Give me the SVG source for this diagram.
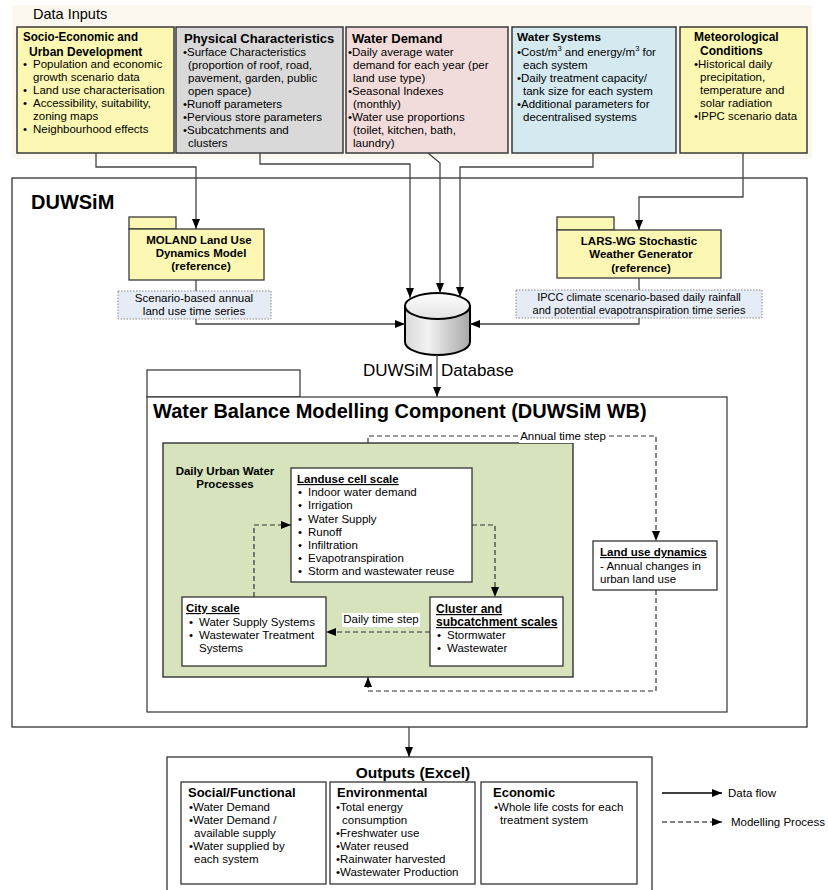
<svg xmlns="http://www.w3.org/2000/svg" width="828" height="890" viewBox="0 0 828 890">
<defs>
<marker id="arr" markerUnits="userSpaceOnUse" markerWidth="10" markerHeight="8" refX="10" refY="4" orient="auto">
<path d="M0,0 L10,4 L0,8 z" fill="#000"/>
</marker>
<linearGradient id="cylBody" x1="0" y1="0" x2="1" y2="0">
<stop offset="0" stop-color="#d8d8d8"/><stop offset="0.35" stop-color="#f2f2f2"/><stop offset="1" stop-color="#a8a8a8"/>
</linearGradient>
<linearGradient id="cylTop" x1="0" y1="0" x2="0" y2="1">
<stop offset="0" stop-color="#ffffff"/><stop offset="1" stop-color="#e2e2e2"/>
</linearGradient>
</defs>
<style>
text{font-family:"Liberation Sans",Arial,sans-serif;fill:#000}
.b{font-weight:bold}
.t{font-size:11.5px}
.s{font-size:11px}
.u{text-decoration:underline}
.ib{stroke:#3a3a3a;stroke-width:1.5}
.box{fill:#fff;stroke:#333;stroke-width:1.3}
.yel{fill:#fcf8b4;stroke:#3a3a3a;stroke-width:1.3}
.lbl{fill:#e6ecf5;stroke:#888;stroke-width:1;stroke-dasharray:1.5,1.5}
.flow{fill:none;stroke:#444;stroke-width:1.3}
.dash{fill:none;stroke:#333;stroke-width:1.2;stroke-dasharray:5,3}
.c{text-anchor:middle}
</style>
<rect x="12" y="5" width="800" height="154" fill="#fcf7ef"/>
<text x="33" y="19" style="font-size:14.5px">Data Inputs</text>

<g id="socio">
<rect x="17" y="27" width="157" height="126" fill="#fcf8b4" class="ib"/>
<text class="b" x="23" y="41" style="font-size:12px" textLength="115" lengthAdjust="spacingAndGlyphs">Socio-Economic and</text>
<text class="b" x="29" y="56" style="font-size:12px">Urban Development</text>
<text class="t" x="23" y="68">•</text><text class="t" x="33" y="68">Population and economic</text>
<text class="t" x="33" y="81">growth scenario data</text>
<text class="t" x="23" y="94">•</text><text class="t" x="33" y="94">Land use characterisation</text>
<text class="t" x="23" y="107">•</text><text class="t" x="33" y="107">Accessibility, suitability,</text>
<text class="t" x="33" y="120">zoning maps</text>
<text class="t" x="23" y="133">•</text><text class="t" x="33" y="133">Neighbourhood effects</text>
</g>

<g id="physical">
<rect x="176" y="27" width="167" height="126" fill="#d9d9d9" class="ib"/>
<text class="b" x="184" y="43" style="font-size:13px">Physical Characteristics</text>
<text class="t" x="183" y="56">•Surface Characteristics</text>
<text class="t" x="188" y="69">(proportion of roof, road,</text>
<text class="t" x="188" y="82">pavement, garden, public</text>
<text class="t" x="188" y="95">open space)</text>
<text class="t" x="183" y="108">•Runoff parameters</text>
<text class="t" x="183" y="121">•Pervious store parameters</text>
<text class="t" x="183" y="134">•Subcatchments and</text>
<text class="t" x="188" y="147">clusters</text>
</g>

<g id="demand">
<rect x="346" y="27" width="162" height="126" fill="#f2dcdb" class="ib"/>
<text class="b" x="352" y="43" style="font-size:13px">Water Demand</text>
<text class="t" x="348" y="56">•Daily average water</text>
<text class="t" x="353" y="69">demand for each year (per</text>
<text class="t" x="353" y="82">land use type)</text>
<text class="t" x="348" y="95">•Seasonal Indexes</text>
<text class="t" x="353" y="108">(monthly)</text>
<text class="t" x="348" y="121">•Water use proportions</text>
<text class="t" x="353" y="134">(toilet, kitchen, bath,</text>
<text class="t" x="353" y="147">laundry)</text>
</g>

<g id="systems">
<rect x="512" y="27" width="164" height="126" fill="#d4eaf0" class="ib"/>
<text class="b" x="517" y="41" style="font-size:11.8px">Water Systems</text>
<text class="t" x="517" y="56">•Cost/m<tspan dy="-5" style="font-size:7.5px">3</tspan><tspan dy="5"> and energy/m</tspan><tspan dy="-5" style="font-size:7.5px">3</tspan><tspan dy="5"> for</tspan></text>
<text class="t" x="523" y="69">each system</text>
<text class="t" x="517" y="82">•Daily treatment capacity/</text>
<text class="t" x="523" y="95">tank size for each system</text>
<text class="t" x="517" y="108">•Additional parameters for</text>
<text class="t" x="523" y="121">decentralised systems</text>
</g>

<g id="meteo">
<rect x="680" y="27" width="127" height="126" fill="#fcf8b4" class="ib"/>
<text class="b" x="694" y="41" style="font-size:12px">Meteorological</text>
<text class="b" x="700" y="55" style="font-size:12px">Conditions</text>
<text class="t" x="694" y="68">•Historical daily</text>
<text class="t" x="700" y="81">precipitation,</text>
<text class="t" x="700" y="94">temperature and</text>
<text class="t" x="700" y="107">solar radiation</text>
<text class="t" x="694" y="120">•IPPC scenario data</text>
</g>

<g id="duwsim">
<rect x="12" y="178" width="795" height="549" fill="#fff" stroke="#222" stroke-width="1.2"/>
<text class="b" x="31" y="209" style="font-size:20px">DUWSiM</text>
</g>

<g id="moland">
<rect x="129" y="217" width="47" height="12" class="yel"/>
<rect x="129" y="229" width="135" height="51" class="yel"/>
<text class="b t c" x="199" y="244">MOLAND Land Use</text>
<text class="b t c" x="201" y="257">Dynamics Model</text>
<text class="b t c" x="201" y="270">(reference)</text>
</g>

<g id="landuse-series">
<rect x="118" y="291" width="153" height="28" class="lbl"/>
<text class="t c" x="194" y="302">Scenario-based annual</text>
<text class="t c" x="194" y="315">land use time series</text>
</g>

<g id="larswg">
<rect x="557" y="217" width="57" height="13" class="yel"/>
<rect x="557" y="230" width="164" height="48" class="yel"/>
<text class="b t c" x="639" y="245">LARS-WG Stochastic</text>
<text class="b t c" x="641" y="258">Weather Generator</text>
<text class="b t c" x="641" y="272">(reference)</text>
</g>

<g id="climate-series">
<rect x="516" y="290" width="246" height="28" class="lbl"/>
<text class="s c" x="639" y="301">IPCC climate scenario-based daily rainfall</text>
<text class="s c" x="639" y="314">and potential evapotranspiration time series</text>
</g>

<g id="database">
<path d="M405,306 L405,342 A32.5,13 0 0 0 470,342 L470,306 Z" fill="url(#cylBody)" stroke="#000" stroke-width="2"/>
<ellipse cx="437.5" cy="306" rx="32.5" ry="13" fill="url(#cylTop)" stroke="#000" stroke-width="2"/>
<text x="363" y="376" style="font-size:17px">DUWSiM</text>
<text x="441" y="376" style="font-size:17px">Database</text>
</g>

<g id="wb">
<rect x="147" y="370" width="153" height="27" fill="#fff" stroke="#333" stroke-width="1.2"/>
<rect x="147" y="397" width="580" height="315" fill="#fff" stroke="#333" stroke-width="1.2"/>
<text class="b" x="153" y="418" style="font-size:20px">Water Balance Modelling Component (DUWSiM WB)</text>
</g>

<g id="daily-processes">
<rect x="163" y="443" width="410" height="234" fill="#d7e3bc" stroke="#333" stroke-width="1.4"/>
<text class="b t c" x="225" y="475">Daily Urban Water</text>
<text class="b t c" x="225" y="488">Processes</text>
</g>

<g id="landuse-cell">
<rect x="291" y="468" width="181" height="114" class="box"/>
<text class="b t u" x="297" y="483">Landuse cell scale</text>
<g class="t">
<text x="298" y="496">•</text><text x="308" y="496">Indoor water demand</text>
<text x="298" y="509">•</text><text x="308" y="509">Irrigation</text>
<text x="298" y="523">•</text><text x="308" y="523">Water Supply</text>
<text x="298" y="536">•</text><text x="308" y="536">Runoff</text>
<text x="298" y="549">•</text><text x="308" y="549">Infiltration</text>
<text x="298" y="562">•</text><text x="308" y="562">Evapotranspiration</text>
<text x="298" y="575">•</text><text x="308" y="575">Storm and wastewater reuse</text>
</g>
</g>

<g id="city">
<rect x="182" y="597" width="144" height="69" class="box"/>
<text class="b t u" x="186" y="612">City scale</text>
<text class="t" x="189" y="626">•</text><text class="t" x="199" y="626">Water Supply Systems</text>
<text class="t" x="189" y="639">•</text><text class="t" x="199" y="639">Wastewater Treatment</text>
<text class="t" x="199" y="652">Systems</text>
</g>

<g id="cluster">
<rect x="430" y="597" width="133" height="69" class="box"/>
<text class="b u" x="436" y="613" style="font-size:12px">Cluster and</text>
<text class="b u" x="436" y="626" style="font-size:12px">subcatchment scales</text>
<text class="t" x="437" y="639">•</text><text class="t" x="447" y="639">Stormwater</text>
<text class="t" x="437" y="652">•</text><text class="t" x="447" y="652">Wastewater</text>
</g>

<g id="landuse-dynamics">
<rect x="593" y="541" width="124" height="49" class="box"/>
<text class="b t u" x="600" y="556">Land use dynamics</text>
<text class="t" x="600" y="570">- Annual changes in</text>
<text class="t" x="600" y="583">urban land use</text>
</g>

<g id="outputs">
<rect x="167" y="757" width="485" height="145" fill="#fff" stroke="#333" stroke-width="1.3"/>
<text class="b c" x="413" y="778" style="font-size:15.5px">Outputs (Excel)</text>
<rect x="181" y="782" width="145" height="102" class="box"/>
<text class="b" x="188" y="797" style="font-size:13px">Social/Functional</text>
<text class="t" x="189" y="811">•Water Demand</text>
<text class="t" x="189" y="824">•Water Demand /</text>
<text class="t" x="194" y="837">available supply</text>
<text class="t" x="189" y="850">•Water supplied by</text>
<text class="t" x="194" y="863">each system</text>
<rect x="330" y="782" width="145" height="102" class="box"/>
<text class="b" x="337" y="797" style="font-size:13px">Environmental</text>
<text class="t" x="336" y="811">•Total energy</text>
<text class="t" x="342" y="824">consumption</text>
<text class="t" x="336" y="837">•Freshwater use</text>
<text class="t" x="336" y="850">•Water reused</text>
<text class="t" x="336" y="863">•Rainwater harvested</text>
<text class="t" x="336" y="876">•Wastewater Production</text>
<rect x="481" y="782" width="156" height="102" class="box"/>
<text class="b" x="493" y="797" style="font-size:13px">Economic</text>
<text class="t" x="494" y="811">•Whole life costs for each</text>
<text class="t" x="500" y="824">treatment system</text>
</g>

<g id="connectors">
<path class="flow" d="M96,153 L96,167 L196,167 L196,229" marker-end="url(#arr)"/>
<path class="flow" d="M260,153 L260,164 L410,164 L410,298" marker-end="url(#arr)"/>
<path class="flow" d="M428,153 L440,163 L440,293" marker-end="url(#arr)"/>
<path class="flow" d="M593,153 L593,167 L460,167 L460,297" marker-end="url(#arr)"/>
<path class="flow" d="M743,153 L743,197 L639,197 L639,230" marker-end="url(#arr)"/>
<path class="flow" d="M196,280 L196,291"/>
<path class="flow" d="M196,319 L196,324 L405,324" marker-end="url(#arr)"/>
<path class="flow" d="M639,278 L639,290"/>
<path class="flow" d="M639,318 L639,324 L470,324" marker-end="url(#arr)"/>
<path class="flow" d="M437,355 L437,397" marker-end="url(#arr)"/>
<path class="flow" d="M409,727 L409,757" marker-end="url(#arr)"/>
<path class="dash" d="M368,443 L368,436 L656,436 L656,541" marker-end="url(#arr)"/>
<rect x="519" y="429" width="88" height="14" fill="#fff"/>
<text class="t c" x="563" y="440">Annual time step</text>
<path class="dash" d="M254,597 L254,525 L291,525" marker-end="url(#arr)"/>
<path class="dash" d="M472,525 L495,525 L495,597" marker-end="url(#arr)"/>
<path class="dash" d="M430,632 L326,632" marker-end="url(#arr)"/>
<rect x="342" y="613" width="78" height="14" fill="#fff"/>
<text class="t c" x="381" y="623">Daily time step</text>
<path class="dash" d="M656,590 L656,691 L368,691 L368,677" marker-end="url(#arr)"/>
</g>

<g id="legend">
<path class="flow" style="stroke:#000" d="M662,793 L722,793" marker-end="url(#arr)"/>
<text class="t" x="728" y="797">Data flow</text>
<path class="dash" style="stroke:#000" d="M662,822 L722,822" marker-end="url(#arr)"/>
<text class="t" x="731" y="826">Modelling Process</text>
</g>
</svg>
